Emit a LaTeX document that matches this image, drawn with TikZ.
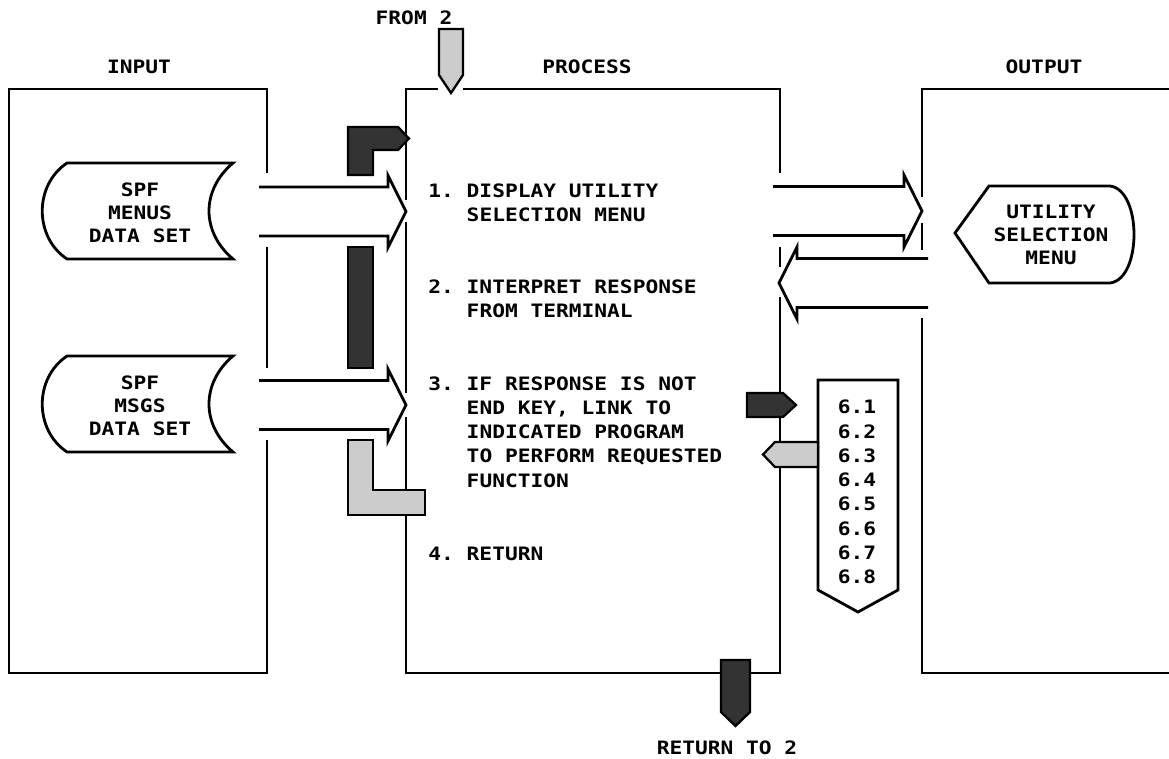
\documentclass[tikz,border=0pt]{standalone}
\usepackage{fontspec}
\setmonofont[FakeStretch=1.15]{DejaVu Sans Mono}
\usetikzlibrary{calc}

% open block arrow: #1 tail, #2 tip, #3 = 1 (points right) or -1 (points left)
\newcommand{\bigarrow}[3]{%
  \draw[openarrow] ($(#1)+(0,-24.5)$) -- ($(#2)+({-18*(#3)},-24.5)$)
    -- ($(#2)+({-18*(#3)},-36)$) -- (#2) -- ($(#2)+({-18*(#3)},36)$)
    -- ($(#2)+({-18*(#3)},24.5)$) -- ($(#1)+(0,24.5)$);}

\begin{document}
\begin{tikzpicture}[x=0.02cm, y=-0.02cm, line width=1.6pt,
    font=\ttfamily\bfseries\frenchspacing\fontsize{10.5}{13.8}\selectfont,
    openarrow/.style={line width=1.6pt, line join=miter},
    darkband/.style={fill=black!80, draw=black, line width=1.3pt},
    lightband/.style={fill=black!20, draw=black, line width=1.3pt},
    txt/.style={inner sep=0pt, align=left},
    blocktxt/.style={inner sep=0pt, align=center,
      font=\ttfamily\bfseries\fontsize{10.5}{13}\selectfont}]

\useasboundingbox (0,0) rectangle (1169,758);

% headings
\node (lblinput) at (139,67) {INPUT};
\node (lblprocess) at (587,67) {PROCESS};
\node (lbloutput) at (1044,67) {OUTPUT};
\node (lblfrom) at (414,18) {FROM 2};
\node (lblreturn) at (727,748) {RETURN TO 2};

% input box
\draw (267,173) -- (267,89) -- (9,89) -- (9,673) -- (267,673) -- (267,440);
\draw (267,247) -- (267,368);

% process box
\draw (406,200) -- (406,89) -- (438,89);
\draw (463,89) -- (780,89) -- (780,173);
\draw (406,222) -- (406,393);
\draw (406,417) -- (406,673) -- (780,673) -- (780,297);
\draw (780,247) -- (780,267);

% output box
\draw (922,197) -- (922,89) -- (1169,89);
\draw (922,223) -- (922,250);
\draw (922,318) -- (922,673) -- (1169,673);

% data sets
\foreach \dy/\nm/\word in {0/menus/MENUS, 193/msgs/MSGS} {
  \begin{scope}[shift={(0,\dy)}]
  \draw (67,163) -- (233,163) .. controls (201,190) and (201,232) .. (233,259)
    -- (67,259) .. controls (34,237) and (34,185) .. (67,163) -- cycle;
  \node[blocktxt] (\nm) at (140,213) {SPF\\\word\\DATA SET};
  \end{scope}
}

% display
\draw (955,233) -- (989,186) -- (1110,186) .. controls (1142,190) and (1142,279) .. (1110,283)
  -- (989,283) -- cycle;
\node[blocktxt] (usel) at (1051,235) {UTILITY\\SELECTION\\MENU};

% process steps
\node[txt, anchor=north west] (step1) at (427,182) {1. DISPLAY UTILITY\\\hphantom{1.~}SELECTION MENU};
\node[txt, anchor=north west] (step2) at (427,278) {2. INTERPRET RESPONSE\\\hphantom{2.~}FROM TERMINAL};
\node[txt, anchor=north west] (step3) at (427,375) {3. IF RESPONSE IS NOT\\\hphantom{3.~}END KEY, LINK TO\\\hphantom{3.~}INDICATED PROGRAM\\\hphantom{3.~}TO PERFORM REQUESTED\\\hphantom{3.~}FUNCTION};
\node[txt, anchor=north west] (step4) at (427,546) {4. RETURN};

% flows
\coordinate (menusout) at (259,211.5);
\coordinate (menusin) at (406,211.5);
\coordinate (msgsout) at (259,405);
\coordinate (msgsin) at (406,405);
\coordinate (uselin) at (922,211);
\coordinate (uselfrom) at (773,211);
\coordinate (termout) at (928,283);
\coordinate (termin) at (779,283);
\bigarrow{menusout}{menusin}{1}
\bigarrow{msgsout}{msgsin}{1}
\bigarrow{uselfrom}{uselin}{1}
\bigarrow{termout}{termin}{-1}

% loop back to step 1
\draw[darkband] (348,175) -- (348,127) -- (398,127) -- (409,138.5) -- (398,150) -- (373,150) -- (373,175) -- cycle;
\draw[darkband] (348,247) rectangle (373,368);
\draw[lightband] (348,440) -- (373,440) -- (373,490) -- (425,490) -- (425,515) -- (348,515) -- cycle;

% entry and exit
\draw[lightband] (439,29) -- (463,29) -- (463,75) -- (451,93) -- (439,75) -- cycle;
\draw[darkband] (721,660) -- (750,660) -- (750,712) -- (735.5,726) -- (721,712) -- cycle;

% called programs
\draw (818,380) -- (898,380) -- (898,590) -- (858,612) -- (818,590) -- cycle;
\node[txt, align=center] (progs) at (857,492) {6.1\\6.2\\6.3\\6.4\\6.5\\6.6\\6.7\\6.8};
\draw[darkband] (747,393) -- (783,393) -- (796,405) -- (783,417) -- (747,417) -- cycle;
\draw[lightband] (818,442) -- (775,442) -- (763,454.5) -- (775,467) -- (818,467) -- cycle;

\end{tikzpicture}
\end{document}
